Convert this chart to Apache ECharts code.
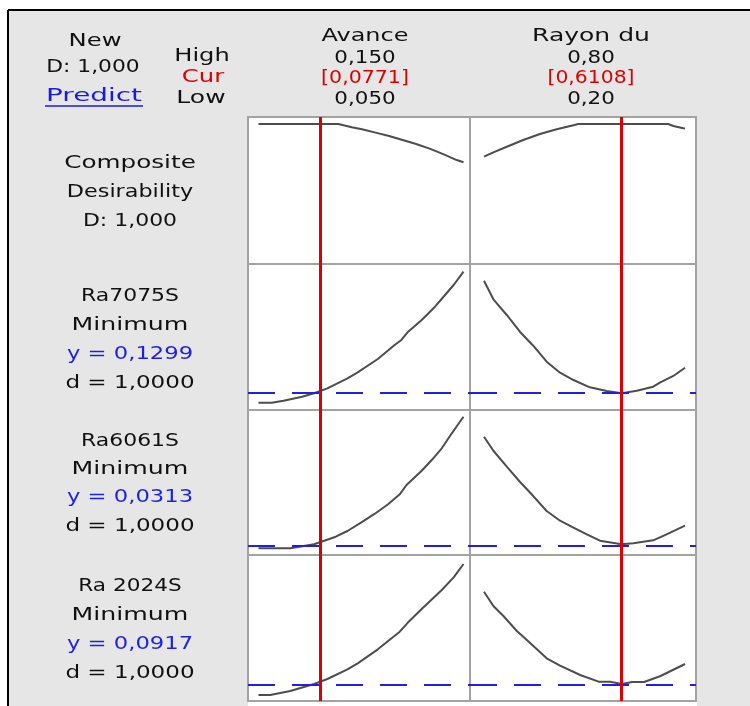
<!DOCTYPE html>
<html>
<head>
<meta charset="utf-8">
<script src="https://cdn.jsdelivr.net/npm/echarts@6/dist/echarts.min.js"></script>
<style>
html,body{margin:0;padding:0;background:#fff;}
#chart{width:750px;height:706px;}
</style>
</head>
<body>
<div id="chart"></div>
<script>
// ---------- data ----------
const factorNames = ['Avance', 'Rayon du'];
const factorHighLabels = ['0,150', '0,80'];
const factorLowLabels = ['0,050', '0,20'];
const factorCurLabels = ['[0,0771]', '[0,6108]'];
const factorCur = [0.0771, 0.6108];

const responseNames = ['Ra7075S', 'Ra6061S', 'Ra 2024S'];
const responseGoals = ['Minimum', 'Minimum', 'Minimum'];
const responseTargets = [0.1299, 0.0313, 0.0917];
const responseYLabels = ['y = 0,1299', 'y = 0,0313', 'y = 0,0917'];
const responseDLabels = ['d = 1,0000', 'd = 1,0000', 'd = 1,0000'];
const compositeLabels = ['Composite', 'Desirability', 'D: 1,000'];

// composite desirability curves
const desAvance = [[0.05,1],[0.0890,1],[0.0955,0.975],[0.1005,0.960],[0.1071,0.935],[0.1137,0.910],[0.1203,0.880],[0.1269,0.850],[0.1335,0.815],[0.1401,0.774],[0.1467,0.729],[0.15,0.712]];
const desRayon = [[0.2,0.754],[0.228,0.787],[0.268,0.829],[0.317,0.880],[0.367,0.925],[0.417,0.960],[0.467,0.990],[0.481,1],[0.750,1],[0.765,0.985],[0.795,0.968],[0.8,0.966]];

// Ra7075S
const ra7075Avance = [[0.05,0.1130],[0.0565,0.1130],[0.0622,0.1166],[0.0713,0.1237],[0.0771,0.1299],[0.0836,0.1386],[0.0934,0.1564],[0.0984,0.1671],[0.1082,0.1908],[0.1164,0.2158],[0.1197,0.2247],[0.1230,0.2394],[0.1296,0.2603],[0.1361,0.2840],[0.1410,0.3048],[0.1452,0.3226],[0.15,0.3463]];
const ra7075Rayon = [[0.2,0.3303],[0.228,0.2971],[0.268,0.2692],[0.307,0.2394],[0.347,0.2145],[0.387,0.1860],[0.427,0.1664],[0.467,0.1534],[0.516,0.1404],[0.566,0.1338],[0.6108,0.1299],[0.656,0.1344],[0.705,0.1415],[0.725,0.1486],[0.765,0.1606],[0.8,0.1753]];

// Ra6061S
const ra6061Avance = [[0.05,0.0271],[0.0655,0.0271],[0.0771,0.0313],[0.0877,0.0393],[0.0934,0.0453],[0.1000,0.0541],[0.1066,0.0633],[0.1132,0.0735],[0.1189,0.0840],[0.1222,0.0939],[0.1296,0.1089],[0.1345,0.1202],[0.1394,0.1326],[0.1443,0.1484],[0.1468,0.1561],[0.15,0.1659]];
const ra6061Rayon = [[0.2,0.1448],[0.228,0.1300],[0.268,0.1132],[0.307,0.0973],[0.347,0.0822],[0.387,0.0664],[0.427,0.0562],[0.467,0.0488],[0.507,0.0418],[0.546,0.0351],[0.6108,0.0313],[0.646,0.0323],[0.705,0.0355],[0.745,0.0418],[0.8,0.0509]];

// Ra 2024S
const ra2024Avance = [[0.05,0.0712],[0.0557,0.0712],[0.0655,0.0786],[0.0771,0.0917],[0.0836,0.1010],[0.0934,0.1191],[0.0984,0.1302],[0.1082,0.1563],[0.1189,0.1891],[0.1230,0.2066],[0.1296,0.2314],[0.1394,0.2668],[0.1452,0.2904],[0.15,0.3152]];
const ra2024Rayon = [[0.2,0.2636],[0.228,0.2370],[0.258,0.2184],[0.298,0.1904],[0.328,0.1736],[0.387,0.1395],[0.427,0.1258],[0.487,0.1084],[0.542,0.0960],[0.577,0.0960],[0.6108,0.0917],[0.643,0.0954],[0.678,0.0954],[0.727,0.1066],[0.8,0.1289]];

// ---------- layout ----------
const colLeft = [248, 470];
const colWidth = [222, 226];
const rowTop = [117, 264, 410, 555];
const rowHeight = [147, 146, 145, 146];
const xRanges = [[0.04488, 0.15317], [0.1582, 0.8328]];
const yRanges = [[-0.0526, 1.0526], [0.10, 0.36], [0.02, 0.173], [0.06, 0.332]];

const curves = [
  [desAvance, desRayon],
  [ra7075Avance, ra7075Rayon],
  [ra6061Avance, ra6061Rayon],
  [ra2024Avance, ra2024Rayon]
];

const RED = '#dd0000';
const BLUE = '#1f1fe6';
const FONT = '"DejaVu Sans", sans-serif';

const grids = [], xAxes = [], yAxes = [], series = [];
let idx = 0;
for (let r = 0; r < 4; r++) {
  for (let c = 0; c < 2; c++) {
    grids.push({left: colLeft[c], top: rowTop[r], width: colWidth[c], height: rowHeight[r],
      show: true, backgroundColor: '#ffffff', borderColor: '#a3a3a3', borderWidth: 2, containLabel: false});
    xAxes.push({type: 'value', gridIndex: idx, min: xRanges[c][0], max: xRanges[c][1], show: false});
    yAxes.push({type: 'value', gridIndex: idx, min: yRanges[r][0], max: yRanges[r][1], show: false});
    const mlData = [{xAxis: factorCur[c], lineStyle: {color: RED, width: 3, type: 'solid'}}];
    if (r > 0) mlData.unshift({yAxis: responseTargets[r - 1], lineStyle: {color: BLUE, width: 2, type: [27, 17]}});
    series.push({
      type: 'line', xAxisIndex: idx, yAxisIndex: idx, data: curves[r][c],
      showSymbol: false, symbol: 'none', smooth: false, silent: true,
      lineStyle: {color: '#4d4d4d', width: 2},
      markLine: {silent: true, symbol: 'none', label: {show: false}, animation: false, data: mlData}
    });
    idx++;
  }
}

function txt(t, x, y, sx, color) {
  return {type: 'text', x: x, y: y, scaleX: sx, z: 10,
    style: {text: t, fill: color || '#111', font: '18px ' + FONT,
      textAlign: 'center', textVerticalAlign: 'middle'}};
}

const graphics = [];
// background panel
graphics.push({type: 'rect', shape: {x: 8, y: 10, width: 742, height: 696}, style: {fill: '#e6e6e6'}, z: -10});
graphics.push({type: 'line', shape: {x1: 8, y1: 10, x2: 750, y2: 10}, style: {stroke: '#000', lineWidth: 2}, z: -9});
graphics.push({type: 'line', shape: {x1: 8, y1: 10, x2: 8, y2: 706}, style: {stroke: '#000', lineWidth: 2}, z: -9});
graphics.push({type: 'rect', shape: {x: 248, y: 702, width: 449, height: 4}, style: {fill: '#ffffff'}, z: -8});

// header
graphics.push(txt('New', 95, 41, 1.35));
graphics.push(txt('D: 1,000', 93, 67, 1.21));
graphics.push(txt('Predict', 94, 96, 1.55, '#1a1ae6'));
graphics.push({type: 'line', shape: {x1: 45, y1: 106, x2: 143, y2: 106}, style: {stroke: '#1a1ae6', lineWidth: 1.5}});
graphics.push(txt('High', 202, 56, 1.34));
graphics.push(txt('Cur', 203, 77, 1.35, RED));
graphics.push(txt('Low', 201, 98, 1.39));
const colCenters = [365, 591];
const nameScales = [1.33, 1.39];
const curScales = [1.14, 1.13];
for (let c = 0; c < 2; c++) {
  graphics.push(txt(factorNames[c], colCenters[c], 36, nameScales[c]));
  graphics.push(txt(factorHighLabels[c], colCenters[c], 58, 1.19));
  graphics.push(txt(factorCurLabels[c], colCenters[c], 78, curScales[c], RED));
  graphics.push(txt(factorLowLabels[c], colCenters[c], 99, 1.19));
}
// row labels
graphics.push(txt(compositeLabels[0], 130, 163, 1.37));
graphics.push(txt(compositeLabels[1], 130, 192, 1.24));
graphics.push(txt(compositeLabels[2], 130, 221, 1.22));
const rowLabelY = [[296, 325, 354, 383], [441, 469, 497, 526], [586, 615, 644, 673]];
const nameRowScales = [1.22, 1.22, 1.2];
for (let i = 0; i < 3; i++) {
  graphics.push(txt(responseNames[i], 130, rowLabelY[i][0], nameRowScales[i]));
  graphics.push(txt(responseGoals[i], 130, rowLabelY[i][1], 1.40));
  graphics.push(txt(responseYLabels[i], 130, rowLabelY[i][2], 1.26, BLUE));
  graphics.push(txt(responseDLabels[i], 130, rowLabelY[i][3], 1.28));
}

const chart = echarts.init(document.getElementById('chart'), null, {renderer: 'canvas'});
chart.setOption({
  animation: false,
  backgroundColor: '#ffffff',
  grid: grids, xAxis: xAxes, yAxis: yAxes, series: series,
  graphic: {elements: graphics}
});
</script>
</body>
</html>
